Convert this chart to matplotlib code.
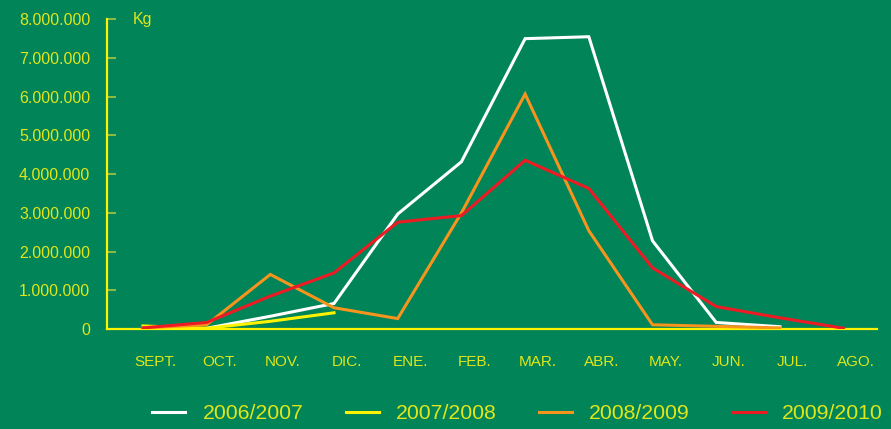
import numpy as np
import matplotlib
matplotlib.use("Agg")
import matplotlib.pyplot as plt

plt.rcParams['font.family'] = ['Liberation Sans', 'DejaVu Sans']

# months (Spanish abbreviations)
months = ["SEPT.", "OCT.", "NOV.", "DIC.", "ENE.", "FEB.",
          "MAR.", "ABR.", "MAY.", "JUN.", "JUL.", "AGO."]

# values in millions of kg
s_2006_2007 = [np.nan, 0.02, 0.33, 0.66, 2.97, 4.32, 7.50, 7.55, 2.28, 0.17, 0.06, np.nan]
s_2007_2008 = [0.08, 0.02, 0.20, 0.42, np.nan, np.nan, np.nan, np.nan, np.nan, np.nan, np.nan, np.nan]
s_2008_2009 = [0.03, 0.11, 1.41, 0.55, 0.27, 3.00, 6.07, 2.54, 0.11, 0.07, 0.03, np.nan]
s_2009_2010 = [0.03, 0.17, 0.85, 1.45, 2.76, 2.93, 4.36, 3.63, 1.58, 0.58, 0.29, 0.02]

series_names = ["2006/2007", "2007/2008", "2008/2009", "2009/2010"]
series_colors = ["#ffffff", "#fff200", "#f7941d", "#ed1c24"]

yticks = [0, 1e6, 2e6, 3e6, 4e6, 5e6, 6e6, 7e6, 8e6]
ytick_labels = ["0", "1.000.000", "2.000.000", "3.000.000", "4.000.000",
                "5.000.000", "6.000.000", "7.000.000", "8.000.000"]

bg = "#008458"
txt = "#e1e61a"
axis_col = "#fff200"

fig = plt.figure(figsize=(8.91, 4.29), dpi=100, facecolor=bg)
ax = fig.add_axes([0.120, 0.233, 0.864, 0.722])
ax.set_facecolor(bg)

x = np.arange(len(months))
all_series = [s_2006_2007, s_2007_2008, s_2008_2009, s_2009_2010]
for vals, name, col in zip(all_series, series_names, series_colors):
    ax.plot(x, np.array(vals) * 1e6, color=col, lw=2.2, label=name,
            solid_joinstyle='miter', zorder=3)

ax.set_xlim(-0.565, 11.52)
ax.set_ylim(0, 8e6)

for side in ["top", "right"]:
    ax.spines[side].set_visible(False)
for side in ["left", "bottom"]:
    ax.spines[side].set_color(axis_col)
    ax.spines[side].set_linewidth(1.6)

ax.set_yticks(yticks)
ax.set_yticklabels(ytick_labels)
ax.tick_params(axis='y', direction='in', length=6.5, width=1.2,
               color="#a8c83c", labelcolor=txt, labelsize=11.5, pad=12)

ax.set_xticks(x + 0.2)
ax.set_xticklabels(months)
ax.tick_params(axis='x', length=0, labelcolor=txt, labelsize=11, pad=19)

ax.text(0, 8e6, "Kg", color=txt, fontsize=11.5, ha='center', va='center')

leg = fig.legend(loc='center', bbox_to_anchor=(0.581, 0.035), ncol=4,
                 frameon=False, fontsize=15.3, handlelength=1.55,
                 handletextpad=0.8, columnspacing=2.0)
for t in leg.get_texts():
    t.set_color(txt)

fig.savefig("out.png", dpi=100, facecolor=bg)
